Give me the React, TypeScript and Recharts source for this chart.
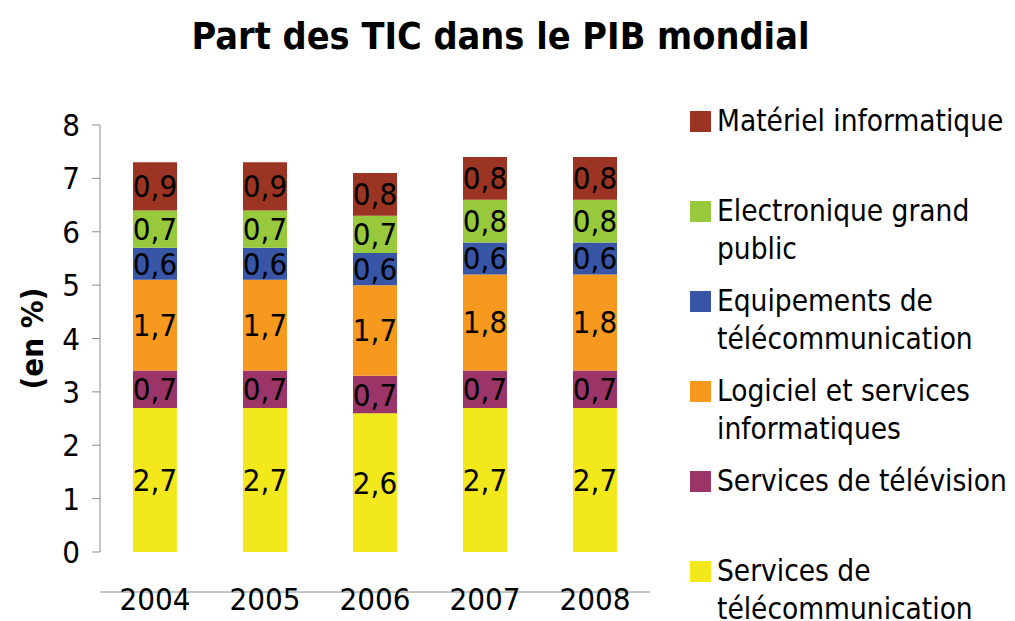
import { BarChart, Bar, XAxis, YAxis, LabelList } from 'recharts'

const years = ['2004', '2005', '2006', '2007', '2008']

const servicesTelecom = [2.7, 2.7, 2.6, 2.7, 2.7]
const servicesTele = [0.7, 0.7, 0.7, 0.7, 0.7]
const logiciel = [1.7, 1.7, 1.7, 1.8, 1.8]
const equipements = [0.6, 0.6, 0.6, 0.6, 0.6]
const electronique = [0.7, 0.7, 0.7, 0.8, 0.8]
const materiel = [0.9, 0.9, 0.8, 0.8, 0.8]

const yTicks = [0, 1, 2, 3, 4, 5, 6, 7, 8]
const edgeTicks = [0, 1, 2, 3, 4, 5]

const series = [
  { key: 'st', name: 'Services de télécommunication', values: servicesTelecom, color: '#F2E81B' },
  { key: 'tv', name: 'Services de télévision', values: servicesTele, color: '#9B3567' },
  { key: 'lo', name: 'Logiciel et services informatiques', values: logiciel, color: '#F7991F' },
  { key: 'eq', name: 'Equipements de télécommunication', values: equipements, color: '#3955A5' },
  { key: 'el', name: 'Electronique grand public', values: electronique, color: '#98C93C' },
  { key: 'ma', name: 'Matériel informatique', values: materiel, color: '#9B3422' },
]

const data = years.map((year, i) => {
  const row: Record<string, string | number> = { year }
  series.forEach(s => { row[s.key] = s.values[i] })
  return row
})

const FONT = '"DejaVu Sans Condensed", "DejaVu Sans", sans-serif'
const AXIS = '#8c8c8c'

const fmt = (v: unknown) => String(v).replace('.', ',')

function LegendBox() {
  return (
    <div style={{ position: 'absolute', left: 690, top: 105, fontFamily: FONT, fontSize: 29.5, color: '#000' }}>
      {[...series].reverse().map(s => (
        <div key={s.key} style={{ display: 'flex', alignItems: 'flex-start', height: 90 }}>
          <div style={{ width: 21, height: 21, background: s.color, marginTop: 6, marginRight: 6, flex: 'none' }} />
          <div style={{ width: 300, lineHeight: '38px', marginTop: -3 }}>{s.name}</div>
        </div>
      ))}
    </div>
  )
}

export default function App() {
  return (
    <div style={{ position: 'absolute', left: 0, top: 0, width: 1015, height: 621, background: '#fff' }}>
      <div
        style={{
          position: 'absolute', left: 0, top: 14, width: 1001, textAlign: 'center',
          fontFamily: FONT, fontWeight: 'bold', fontSize: 37.5, color: '#000',
        }}
      >
        Part des TIC dans le PIB mondial
      </div>
      <BarChart width={1015} height={621} data={data} margin={{ top: 125, right: 365, bottom: 28, left: 0 }}>
        <XAxis
          xAxisId="edges"
          type="number"
          domain={[0, 5]}
          ticks={edgeTicks}
          tick={false}
          tickSize={8}
          height={1}
          stroke={AXIS}
          allowDataOverflow
        />
        <XAxis
          dataKey="year"
          height={40}
          axisLine={false}
          tickLine={false}
          tickSize={0}
          tickMargin={36}
          tick={{ fontSize: 31, fill: '#000', fontFamily: FONT }}
        />
        <YAxis
          width={100}
          domain={[0, 8]}
          ticks={yTicks}
          interval={0}
          tickSize={8}
          tickMargin={12}
          stroke={AXIS}
          tick={{ fontSize: 31, fill: '#000', fontFamily: FONT }}
          label={{
            content: (props: any) => {
              const vb = props.viewBox || { x: 0, y: 125, width: 100, height: 427 }
              const cx = vb.x + 32
              const cy = vb.y + vb.height / 2
              return (
                <text
                  x={cx} y={cy} transform={`rotate(-90 ${cx} ${cy})`} textAnchor="middle"
                  dominantBaseline="central" fontFamily={FONT} fontWeight="bold" fontSize={31} fill="#000"
                >
                  (en %)
                </text>
              )
            },
          }}
        />
        {series.map(s => (
          <Bar key={s.key} dataKey={s.key} name={s.name} stackId="a" fill={s.color} barSize={44} isAnimationActive={false}>
            <LabelList
              dataKey={s.key}
              position="center"
              formatter={fmt}
              style={{ fontSize: 31, fill: '#000', fontFamily: FONT }}
            />
          </Bar>
        ))}
      </BarChart>
      <LegendBox />
    </div>
  )
}
